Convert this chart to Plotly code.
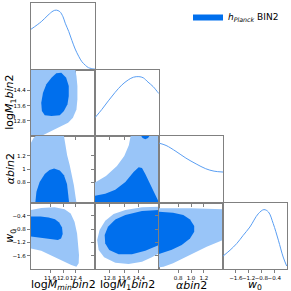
import plotly.graph_objects as go

W = H = 291
X0, PW = 31, 64
Y0, PH = 3, 66.5

DARK = '#006FED'
LIGHT = '#99C5F8'
LINE1D = '#5A9EF2'
FRAME = '#808080'
FONT = 'DejaVu Sans'

# ---- axis settings ----
ranges = {'logMmin': [11.0, 13.0], 'logM1': [12.0, 15.5], 'alpha': [0.5, 1.5], 'w0': [-2.0, 0.0]}
tick_vals = {'logMmin': [11.6, 12.0, 12.4], 'logM1': [12.8, 13.6, 14.4],
             'alpha': [0.8, 1.0, 1.2], 'w0': [-1.6, -1.2, -0.8, -0.4]}
xtick_text = {'logMmin': ['11.6', '12.0', '12.4'], 'logM1': ['12.8', '13.6', '14.4'],
              'alpha': ['0.8', '1.0', '1.2'], 'w0': ['\u22121.6', '\u22121.2', '\u22120.8', '\u22120.4']}
ytick_text = {'logMmin': ['11.6', '12.0', '12.4'], 'logM1': ['12.8', '13.6', '14.4'],
              'alpha': ['0.8', '1', '1.2'], 'w0': ['\u22121.6', '\u22121.2', '\u22120.8', '\u22120.4']}
labels = {'logMmin': 'log<i>M</i><sub><i>min</i></sub><i>bin</i>2',
          'logM1': 'log<i>M</i><sub>1</sub><i>bin</i>2',
          'alpha': '<i>\u03b1bin</i>2',
          'w0': '<i>w</i><sub>0</sub>'}
params = ['logMmin', 'logM1', 'alpha', 'w0']

# ---- 1D marginals (normalised) ----
logMmin_x = [11.0, 11.32, 11.53, 11.69, 11.79, 11.9, 12.0, 12.07, 12.18, 12.28, 12.38, 12.49, 12.59, 12.70, 12.80, 12.96, 13.0]
logMmin_p = [0.678, 0.805, 0.914, 0.985, 1.0, 0.975, 0.888, 0.78, 0.64, 0.487, 0.345, 0.223, 0.132, 0.071, 0.03, 0.01, 0.008]

logM1_x = [12.0, 12.38, 12.73, 13.09, 13.46, 13.82, 14.1, 14.4, 14.64, 14.9, 15.18, 15.45, 15.5]
logM1_p = [0.309, 0.449, 0.592, 0.731, 0.857, 0.945, 0.99, 1.0, 0.98, 0.908, 0.832, 0.731, 0.714]

alpha_x = [0.5, 0.61, 0.765, 0.92, 1.08, 1.23, 1.36, 1.5]
alpha_p = [1.0, 0.961, 0.861, 0.748, 0.65, 0.569, 0.528, 0.513]

w0_x = [-2.0, -1.78, -1.57, -1.37, -1.16, -0.90, -0.72, -0.58, -0.43, -0.27, -0.12, -0.01]
w0_p = [0.217, 0.317, 0.429, 0.566, 0.707, 0.929, 1.0, 0.96, 0.764, 0.485, 0.202, 0.05]

# ---- 2D contours: 95% (outer) and 68% (inner) regions ----
m1_mmin_out_x = [11.0, 11.0, 12.385, 12.42, 12.45, 12.45, 12.42, 12.31, 12.16, 11.84, 11.53, 11.32]
m1_mmin_out_y = [12.0, 15.5, 15.5, 15.16, 14.63, 13.93, 13.4, 12.96, 12.70, 12.44, 12.17, 12.0]
m1_mmin_in_x = [11.948, 12.10, 12.18, 12.18, 12.14, 12.03, 11.90, 11.64, 11.43, 11.34, 11.32, 11.375, 11.48, 11.64, 11.79]
m1_mmin_in_y = [15.33, 15.07, 14.63, 14.11, 13.67, 13.32, 13.09, 13.05, 13.09, 13.32, 13.75, 14.28, 14.72, 15.07, 15.30]

al_mmin_out_x = [11.0, 11.0, 11.08, 11.15, 12.03, 12.07, 12.13, 12.21, 12.28, 12.34, 12.385, 12.42]
al_mmin_out_y = [0.5, 1.4, 1.47, 1.5, 1.5, 1.36, 1.21, 1.06, 0.91, 0.76, 0.61, 0.5]
al_mmin_in_x = [11.135, 11.17, 11.27, 11.43, 11.58, 11.72, 11.90, 12.03, 12.125, 12.17, 12.19]
al_mmin_in_y = [0.5, 0.66, 0.81, 0.93, 0.99, 1.01, 0.98, 0.91, 0.78, 0.63, 0.5]

al_m1_out_x = [12.0, 12.0, 12.6, 13.2, 13.6, 13.85, 13.95, 15.5, 15.5]
al_m1_out_y = [0.5, 0.8, 0.9, 1.05, 1.2, 1.36, 1.5, 1.5, 0.5]
al_m1_in_x = [12.0, 12.0, 12.56, 13.11, 13.66, 14.11, 14.39, 14.57, 14.75, 15.02, 15.30, 15.48, 15.5]
al_m1_in_y = [0.5, 0.6, 0.63, 0.69, 0.81, 0.96, 1.03, 1.02, 0.93, 0.78, 0.63, 0.53, 0.5]
al_m1_blob_x = [14.53, 14.6, 14.75, 14.9, 14.97]
al_m1_blob_y = [1.5, 1.47, 1.45, 1.47, 1.5]

w0_mmin_out_x = [11.0, 11.32, 11.74, 12.05, 12.24, 12.36, 12.44, 12.48, 12.50, 12.49, 12.42, 12.26, 11.95, 11.63, 11.32, 11.0]
w0_mmin_out_y = [-0.226, -0.165, -0.145, -0.205, -0.33, -0.58, -0.93, -1.28, -1.58, -1.83, -1.93, -1.88, -1.73, -1.58, -1.45, -1.38]
w0_mmin_in_x = [11.0, 11.3, 11.55, 11.75, 11.88, 11.97, 11.99, 11.94, 11.84, 11.6, 11.35, 11.0]
w0_mmin_in_y = [-0.42, -0.42, -0.45, -0.5, -0.6, -0.75, -0.95, -1.08, -1.13, -1.1, -1.06, -1.02]

w0_m1_out_x = [15.5, 14.57, 13.66, 13.02, 12.56, 12.25, 12.12, 12.2, 12.5, 13.11, 13.84, 14.57, 15.11, 15.5]
w0_m1_out_y = [-0.125, -0.145, -0.225, -0.345, -0.55, -0.83, -1.13, -1.43, -1.65, -1.81, -1.85, -1.78, -1.65, -1.53]
w0_m1_in_x = [15.5, 14.57, 13.66, 13.11, 12.71, 12.53, 12.56, 12.78, 13.29, 14.02, 14.75, 15.5]
w0_m1_in_y = [-0.225, -0.255, -0.375, -0.51, -0.73, -0.98, -1.23, -1.43, -1.56, -1.56, -1.45, -1.28]

w0_al_out_x = [0.5, 1.0, 1.5, 1.5, 1.245, 0.985, 0.72, 0.57, 0.5]
w0_al_out_y = [-0.175, -0.17, -0.2, -1.13, -1.33, -1.58, -1.83, -1.93, -1.95]
w0_al_in_x = [0.5, 0.72, 0.88, 0.985, 1.05, 1.05, 0.985, 0.855, 0.70, 0.5]
w0_al_in_y = [-0.275, -0.305, -0.375, -0.51, -0.71, -0.88, -1.08, -1.28, -1.42, -1.55]

legend_name = '<i>h</i><sub><i>Planck</i></sub> BIN2'

# ---- panel list ----
panels = [(0, 0), (1, 0), (1, 1), (2, 0), (2, 1), (2, 2), (3, 0), (3, 1), (3, 2), (3, 3)]
diag_data = {0: (logMmin_x, logMmin_p), 1: (logM1_x, logM1_p), 2: (alpha_x, alpha_p), 3: (w0_x, w0_p)}
contours = {
    (1, 0): [(m1_mmin_out_x, m1_mmin_out_y, LIGHT), (m1_mmin_in_x, m1_mmin_in_y, DARK)],
    (2, 0): [(al_mmin_out_x, al_mmin_out_y, LIGHT), (al_mmin_in_x, al_mmin_in_y, DARK)],
    (2, 1): [(al_m1_out_x, al_m1_out_y, LIGHT), (al_m1_in_x, al_m1_in_y, DARK), (al_m1_blob_x, al_m1_blob_y, DARK)],
    (3, 0): [(w0_mmin_out_x, w0_mmin_out_y, LIGHT), (w0_mmin_in_x, w0_mmin_in_y, DARK)],
    (3, 1): [(w0_m1_out_x, w0_m1_out_y, LIGHT), (w0_m1_in_x, w0_m1_in_y, DARK)],
    (3, 2): [(w0_al_out_x, w0_al_out_y, LIGHT), (w0_al_in_x, w0_al_in_y, DARK)],
}

fig = go.Figure()
layout = {}
legend_done = False
for k, (r, c) in enumerate(panels, start=1):
    sx = '' if k == 1 else str(k)
    xp = params[c]
    yp = params[r]
    common = dict(showline=True, mirror=True, linecolor=FRAME, linewidth=1.2,
                  showgrid=False, zeroline=False, ticks='outside', ticklen=3,
                  tickwidth=1, tickcolor=FRAME, tickangle=0, automargin=False,
                  tickfont=dict(size=5.5, family=FONT, color='black'))
    xd = [(X0 + c * PW) / W, (X0 + (c + 1) * PW) / W]
    yd = [1 - (Y0 + (r + 1) * PH) / H, 1 - (Y0 + r * PH) / H]
    layout['xaxis' + sx] = dict(common, domain=xd, range=ranges[xp], anchor='y' + sx,
                                tickmode='array', tickvals=tick_vals[xp], ticktext=xtick_text[xp],
                                showticklabels=(r == 3))
    if r == c:
        layout['yaxis' + sx] = dict(common, domain=yd, range=[0, 1.12], anchor='x' + sx,
                                    ticks='', showticklabels=False)
        xs, ps = diag_data[c]
        fig.add_trace(go.Scatter(x=xs, y=ps, mode='lines', line=dict(color=LINE1D, width=1, shape='spline'),
                                 xaxis='x' + sx, yaxis='y' + sx, showlegend=False, hoverinfo='skip'))
    else:
        layout['yaxis' + sx] = dict(common, domain=yd, range=ranges[yp], anchor='x' + sx,
                                    tickmode='array', tickvals=tick_vals[yp], ticktext=ytick_text[yp],
                                    showticklabels=(c == 0))
        for (cx, cy, col) in contours[(r, c)]:
            show = (col == DARK and not legend_done)
            if show:
                legend_done = True
            fig.add_trace(go.Scatter(x=cx, y=cy, mode='lines', fill='toself', fillcolor=col,
                                     line=dict(width=0, color=col), name=legend_name,
                                     xaxis='x' + sx, yaxis='y' + sx, showlegend=show, hoverinfo='skip'))

annotations = []
for i, p in enumerate(params):
    annotations.append(dict(text=labels[p], xref='paper', yref='paper',
                            x=(X0 + (i + 0.5) * PW) / W, y=1 - 285 / H, xanchor='center', yanchor='middle',
                            showarrow=False, font=dict(size=11, family=FONT, color='black')))
for i, p in enumerate(params[1:], start=1):
    annotations.append(dict(text=labels[p], xref='paper', yref='paper', textangle=-90,
                            x=10 / W, y=1 - (Y0 + (i + 0.5) * PH) / H, xanchor='center', yanchor='middle',
                            showarrow=False, font=dict(size=11, family=FONT, color='black')))

fig.update_layout(**layout)
fig.update_layout(width=W, height=H, margin=dict(l=0, r=0, t=0, b=0),
                  paper_bgcolor='white', plot_bgcolor='rgba(0,0,0,0)',
                  annotations=annotations,
                  showlegend=True,
                  legend=dict(x=188 / W, y=1 - 2 / H, xanchor='left', yanchor='top',
                              bgcolor='rgba(0,0,0,0)', font=dict(size=9, family=FONT, color='black'),
                              itemwidth=30, tracegroupgap=0))
fig.write_html('out.html', config={'displayModeBar': False},
               post_script="document.body.style.margin='0px';")
